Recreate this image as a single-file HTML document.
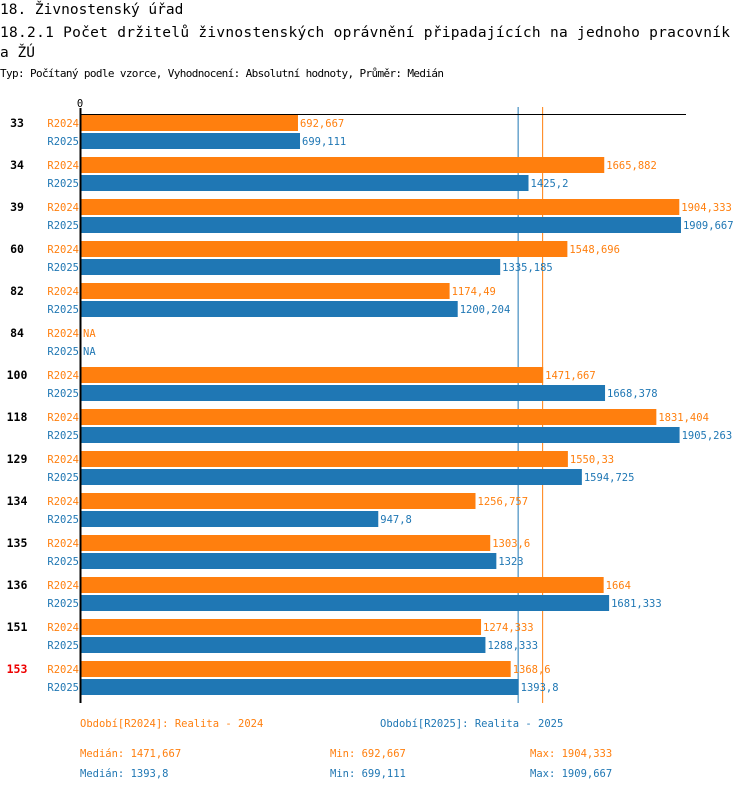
<!DOCTYPE html>
<html><head><meta charset="utf-8"><style>
body{margin:0;background:#fff;width:750px;height:792px;overflow:hidden}
svg text{font-family:"DejaVu Sans Mono","Liberation Mono",monospace}
</style></head><body>
<svg id="c" width="750" height="792">
<text x="0" y="14" font-size="14.5" fill="#000">18. Živnostenský úřad</text>
<text x="0" y="37" font-size="14.5" fill="#000" textLength="730">18.2.1 Počet držitelů živnostenských oprávnění připadajících na jednoho pracovník</text>
<text x="0" y="57" font-size="14.5" fill="#000">a ŽÚ</text>
<text x="0" y="77" font-size="11" fill="#000" textLength="444">Typ: Počítaný podle vzorce, Vyhodnocení: Absolutní hodnoty, Průměr: Medián</text>
<text x="80" y="107" font-size="10.5" text-anchor="middle" fill="#000">0</text>
<g id="meds"></g>
<g id="bars"></g>
<line x1="80" y1="114.5" x2="686" y2="114.5" stroke="#000"/>
<line x1="80.5" y1="108" x2="80.5" y2="703" stroke="#000" stroke-width="2"/>
<text x="80" y="727" font-size="10.5" fill="#ff7f0e">Období[R2024]: Realita - 2024</text>
<text x="380" y="727" font-size="10.5" fill="#1f77b4">Období[R2025]: Realita - 2025</text>
<text x="80" y="757" font-size="10.5" fill="#ff7f0e">Medián: 1471,667</text>
<text x="330" y="757" font-size="10.5" fill="#ff7f0e">Min: 692,667</text>
<text x="530" y="757" font-size="10.5" fill="#ff7f0e">Max: 1904,333</text>
<text x="80" y="777" font-size="10.5" fill="#1f77b4">Medián: 1393,8</text>
<text x="330" y="777" font-size="10.5" fill="#1f77b4">Min: 699,111</text>
<text x="530" y="777" font-size="10.5" fill="#1f77b4">Max: 1909,667</text>
</svg>
<script>
const categories=["33","34","39","60","82","84","100","118","129","134","135","136","151","153"];
const r2024=[692.667,1665.882,1904.333,1548.696,1174.49,null,1471.667,1831.404,1550.33,1256.757,1303.6,1664,1274.333,1368.6];
const r2025=[699.111,1425.2,1909.667,1335.185,1200.204,null,1668.378,1905.263,1594.725,947.8,1323,1681.333,1288.333,1393.8];
const medians=[1471.667,1393.8];
const NS="http://www.w3.org/2000/svg";
const x=v=>80+v*0.3147;
const g=document.getElementById('bars');
function mk(t,a,txt){const e=document.createElementNS(NS,t);for(const k in a)e.setAttribute(k,a[k]);if(txt!=null)e.textContent=txt;return e;}
const fmt=v=>v==null?"NA":String(v).replace('.',',');
categories.forEach((c,i)=>{
  const y0=115+42*i;
  const lab=mk('text',{x:17,y:y0+12,'font-size':11.5,'font-weight':'bold','text-anchor':'middle',fill:c==="153"?"#e00":"#000"},c);
  
  
  g.appendChild(lab);
  [[r2024,"#ff7f0e","R2024",0],[r2025,"#1f77b4","R2025",18]].forEach(([arr,col,nm,dy])=>{
    const v=arr[i];const yy=y0+dy;
    const sl=mk('text',{x:79,y:yy+12,'font-size':10.5,fill:col,'text-anchor':'end'},nm);
    
    
    g.appendChild(sl);
    let end=81;
    if(v!=null){
      const r=mk('rect',{x:81,y:yy,width:x(v)-81,height:16,fill:col});
      
      
      g.appendChild(r);end=x(v);
    }
    const vl=mk('text',{x:end+2,y:yy+12,'font-size':10.5,fill:col},fmt(v));
    
    
    g.appendChild(vl);
  });
});
const mg=document.getElementById('meds');
[[medians[0],"#ff7f0e"],[medians[1],"#1f77b4"]].forEach(([m,col])=>{
  const l=mk('line',{x1:x(m)-0.5,x2:x(m)-0.5,y1:107,y2:703,stroke:col,'stroke-width':1});
  
  
  mg.appendChild(l);
});
</script>
</body></html>
